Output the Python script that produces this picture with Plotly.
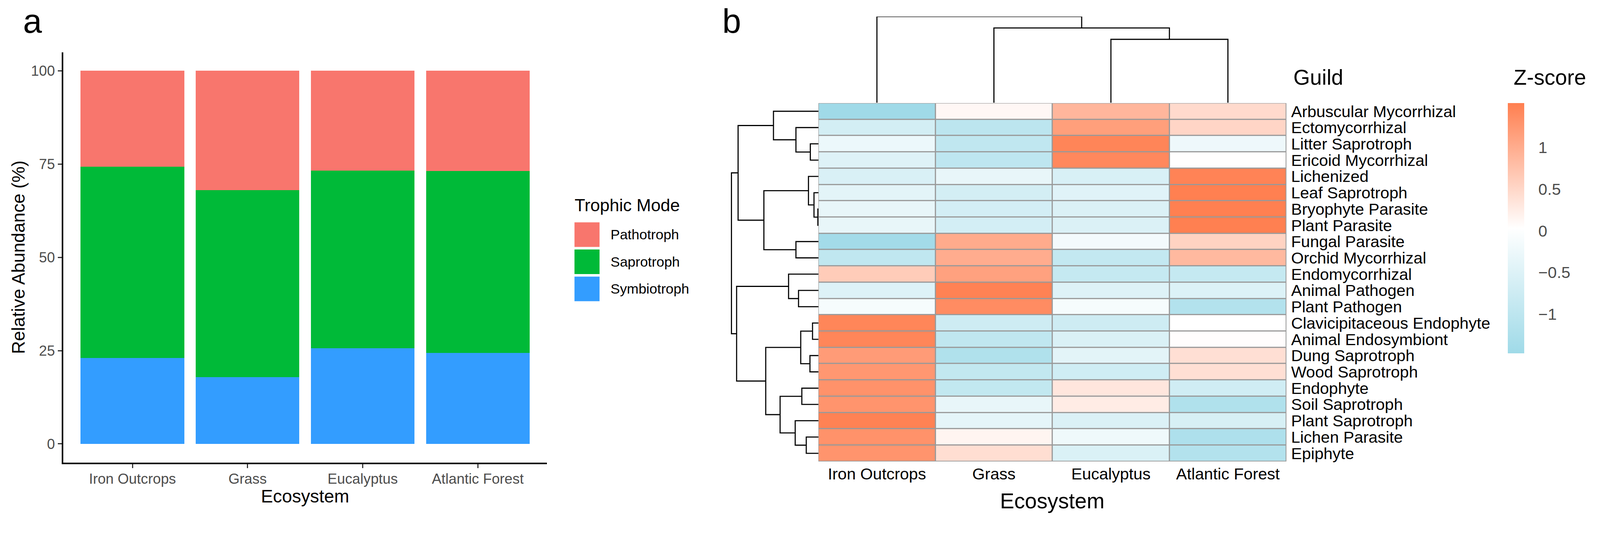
import plotly.graph_objects as go

# Reference is 4342x1419; the page is laid out on a 4096-px-wide CSS canvas.
REF_W, REF_H = 4342, 1419
W = 4096
S = W / REF_W
H = round(REF_H * S)
FONT = "Liberation Sans"

# ---------------- Panel a data ----------------
ecosystems = ["Iron Outcrops", "Grass", "Eucalyptus", "Atlantic Forest"]
trophic_modes = ["Pathotroph", "Saprotroph", "Symbiotroph"]
pathotroph = [25.7, 32.0, 26.7, 26.9]
saprotroph = [51.3, 50.1, 47.7, 48.7]
symbiotroph = [23.0, 17.9, 25.6, 24.4]
abundance_ticks = [0, 25, 50, 75, 100]
mode_colors = ["#F8766D", "#00BA38", "#339DFF"]

# ---------------- Panel b data ----------------
guilds = [
    "Arbuscular Mycorrhizal", "Ectomycorrhizal", "Litter Saprotroph", "Ericoid Mycorrhizal",
    "Lichenized", "Leaf Saprotroph", "Bryophyte Parasite", "Plant Parasite",
    "Fungal Parasite", "Orchid Mycorrhizal", "Endomycorrhizal", "Animal Pathogen",
    "Plant Pathogen", "Clavicipitaceous Endophyte", "Animal Endosymbiont", "Dung Saprotroph",
    "Wood Saprotroph", "Endophyte", "Soil Saprotroph", "Plant Saprotroph",
    "Lichen Parasite", "Epiphyte",
]
z_iron_outcrops = [-1.46, -0.66, -0.26, -0.48, -0.57, -0.41, -0.33, -0.33, -1.41, -0.95, 0.63,
                   -0.50, -0.11, 1.45, 1.45, 1.20, 1.25, 1.31, 1.28, 1.50, 1.31, 1.28]
z_grass = [0.12, -1.02, -0.96, -0.98, -0.33, -0.66, -0.65, -0.65, 1.02, 1.00, 1.13,
           1.50, 1.38, -0.74, -0.95, -1.20, -0.92, -0.92, -0.33, -0.38, 0.15, 0.42]
z_eucalyptus = [0.88, 1.16, 1.46, 1.42, -0.58, -0.45, -0.54, -0.54, -0.16, -0.90, -0.88,
                -0.49, -0.11, -0.74, -0.55, -0.40, -0.72, 0.32, 0.25, -0.53, -0.22, -0.55]
z_atlantic_forest = [0.46, 0.52, -0.24, 0.04, 1.48, 1.52, 1.52, 1.52, 0.55, 0.85, -0.88,
                     -0.51, -1.16, 0.03, 0.05, 0.40, 0.40, -0.71, -1.20, -0.59, -1.24, -1.15]
zscore_ticks = [-1, -0.5, 0, 0.5, 1]
zscore_ticktext = ["\u22121", "\u22120.5", "0", "0.5", "1"]
z_min, z_max = -1.47, 1.53

# dendrograms: (left, right, height); leaves are row / column indices
clade_a = (0, (1, (2, 3, 22), 61), 122)
clade_b = (4, (5, (6, 7, 1.5), 12), 27)
clade_c = (8, 9, 61)
clade_d = (10, (11, 12, 54), 81)
clade_e = ((13, 14, 16), (15, 16, 23), 48)
clade_f = ((17, 18, 45), (19, (20, 21, 33), 63), 104)
row_tree = (
    (clade_a, (clade_b, clade_c, 148), 218),
    (clade_d, (clade_e, clade_f, 143), 222),
    236,
)
col_tree = (0, (1, (2, 3, 0.736), 0.868), 1.0)

LOW, MID, HIGH = "#9FDAE8", "#FFFFFF", "#FF7F50"


def px(x):
    return x / REF_W


def py(y):
    return 1 - y / REF_H


def s(v):
    return v * S


def si(v):
    return int(round(v * S))


def walk(node, segs):
    if isinstance(node, int):
        return float(node), 0.0
    left, right, h = node
    p1, h1 = walk(left, segs)
    p2, h2 = walk(right, segs)
    segs.append([(p1, h1), (p1, h), (p2, h), (p2, h2)])
    return (p1 + p2) / 2, h


fig = go.Figure()

# ---------- panel a: stacked bars ----------
for name, vals, col in [("Symbiotroph", symbiotroph, mode_colors[2]),
                        ("Saprotroph", saprotroph, mode_colors[1]),
                        ("Pathotroph", pathotroph, mode_colors[0])]:
    fig.add_trace(go.Bar(x=ecosystems, y=vals, name=name, width=0.9,
                         marker=dict(color=col, line=dict(width=0)),
                         xaxis="x", yaxis="y"))

# ---------- panel b: heatmap ----------
zmat = [[z_iron_outcrops[i], z_grass[i], z_eucalyptus[i], z_atlantic_forest[i]]
        for i in range(len(guilds))]
fig.add_trace(go.Heatmap(
    z=zmat, x=list(range(len(ecosystems))), y=list(range(len(guilds))),
    xaxis="x2", yaxis="y2", xgap=3, ygap=3,
    colorscale=[[0, LOW], [0.5, MID], [1, HIGH]], zmin=z_min, zmax=z_max,
    colorbar=dict(
        x=px(4092), xanchor="left", y=py(278), yanchor="top",
        thickness=s(44), thicknessmode="pixels", len=s(680), lenmode="pixels",
        outlinewidth=0, xpad=0, ypad=0,
        tickvals=zscore_ticks, ticktext=zscore_ticktext,
        tickfont=dict(family=FONT, size=s(44), color="#4D4D4D"),
        ticks="outside", ticklen=s(30), tickcolor="rgba(0,0,0,0)",
    ),
))

# ---------- dendrograms ----------
segs = []
walk(row_tree, segs)
rx, ry = [], []
for sg in segs:
    for p, h in sg:
        rx.append(h)
        ry.append(p)
    rx.append(None)
    ry.append(None)
fig.add_trace(go.Scatter(x=rx, y=ry, mode="lines", line=dict(color="black", width=s(3)),
                         xaxis="x3", yaxis="y3", hoverinfo="skip"))

segs = []
walk(col_tree, segs)
cx, cy = [], []
for sg in segs:
    for p, h in sg:
        cx.append(p)
        cy.append(h)
    cx.append(None)
    cy.append(None)
fig.add_trace(go.Scatter(x=cx, y=cy, mode="lines", line=dict(color="black", width=s(3)),
                         xaxis="x4", yaxis="y4", hoverinfo="skip"))

hidden = dict(visible=False, showgrid=False, zeroline=False, fixedrange=True)

fig.update_layout(
    width=W, height=H, autosize=False,
    margin=dict(l=0, r=0, t=0, b=0, pad=0),
    paper_bgcolor="white", plot_bgcolor="white",
    barmode="stack", showlegend=False,
    font=dict(family=FONT, color="black"),
    xaxis=dict(domain=[px(172), px(1484)], range=[-0.6, 3.6], type="category",
               showline=True, linecolor="black", linewidth=s(4),
               ticks="outside", ticklen=s(11), tickwidth=s(3), tickcolor="#333333",
               tickfont=dict(size=s(39), color="#4D4D4D"), ticklabelstandoff=-4,
               showgrid=False, zeroline=False, anchor="y"),
    yaxis=dict(domain=[py(1258), py(139)], range=[-5, 105],
               tickvals=abundance_ticks,
               showline=True, linecolor="black", linewidth=s(4),
               ticks="outside", ticklen=s(11), tickwidth=s(3), tickcolor="#333333",
               tickfont=dict(size=s(39), color="#4D4D4D"), showgrid=False, zeroline=False,
               anchor="x"),
    xaxis2=dict(domain=[px(2221), px(3491)], range=[-0.5, 3.5],
                tickvals=list(range(len(ecosystems))), ticktext=ecosystems,
                tickfont=dict(size=s(44), color="black"), ticks="", ticklabelstandoff=si(4),
                showgrid=False, zeroline=False, showline=False, anchor="y2"),
    yaxis2=dict(domain=[py(1255), py(278)], range=[len(guilds) - 0.5, -0.5],
                tickvals=list(range(len(guilds))), ticktext=guilds, side="right",
                tickfont=dict(size=s(44), color="black"), ticks="", ticklabelstandoff=si(12),
                showgrid=False, zeroline=False, showline=False, anchor="x2"),
    xaxis3=dict(domain=[px(1960), px(2221)], range=[261, 0], anchor="y3", **hidden),
    yaxis3=dict(domain=[py(1255), py(278)], range=[len(guilds) - 0.5, -0.5], anchor="x3", **hidden),
    xaxis4=dict(domain=[px(2221), px(3491)], range=[-0.5, 3.5], anchor="y4", **hidden),
    yaxis4=dict(domain=[py(277), py(42)], range=[0, 1], anchor="x4", **hidden),
)

# heatmap cell borders (grey60)
fig.add_shape(type="rect", xref="x2", yref="y2", x0=-0.5, x1=3.5,
              y0=-0.5, y1=len(guilds) - 0.5, fillcolor="#999999",
              line=dict(color="#999999", width=s(3)), layer="below")

# legend for panel a
key_top = [603, 677, 751]
for name, col, top in zip(trophic_modes, mode_colors, key_top):
    fig.add_shape(type="rect", xref="paper", yref="paper",
                  x0=px(1559), x1=px(1627), y0=py(top + 67), y1=py(top),
                  fillcolor=col, line=dict(width=0))
    fig.add_annotation(x=px(1655), y=py(top + 34), xref="paper", yref="paper",
                       text=name, showarrow=False, xanchor="left", yanchor="middle",
                       font=dict(size=s(38), color="black"))

annots = [
    dict(x=px(1557), y=py(556), text="Trophic Mode", size=47, xanchor="left", yanchor="middle"),
    dict(x=px(828), y=py(1350), text="Ecosystem", size=49, xanchor="center", yanchor="middle"),
    dict(x=px(2856), y=py(1363), text="Ecosystem", size=58, xanchor="center", yanchor="middle"),
    dict(x=px(3508), y=py(208), text="Guild", size=58, xanchor="left", yanchor="middle"),
    dict(x=px(4206), y=py(208), text="Z-score", size=58, xanchor="center", yanchor="middle"),
    dict(x=px(60), y=1.0, text="a", size=92, xanchor="left", yanchor="top"),
    dict(x=px(1958), y=1.0, text="b", size=92, xanchor="left", yanchor="top"),
]
for a in annots:
    fig.add_annotation(x=a["x"], y=a["y"], xref="paper", yref="paper", text=a["text"],
                       showarrow=False, xanchor=a["xanchor"], yanchor=a["yanchor"],
                       font=dict(size=s(a["size"]), color="black"))

fig.add_annotation(x=px(50), y=py(698), xref="paper", yref="paper",
                   text="Relative Abundance (%)", showarrow=False, textangle=-90,
                   xanchor="center", yanchor="middle", font=dict(size=s(49), color="black"))

fig.write_html("out.html", config={"displayModeBar": False},
               post_script="document.body.style.margin='0';document.body.style.overflow='hidden';")
